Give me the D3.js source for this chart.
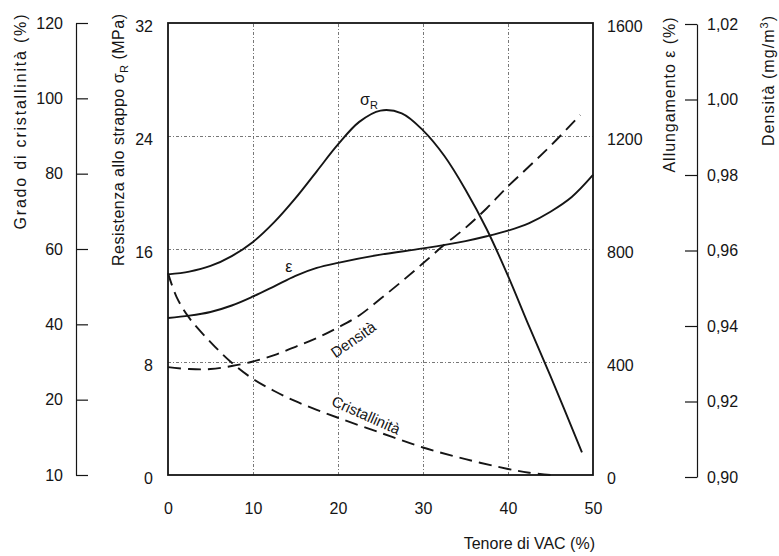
<!doctype html>
<html>
<head>
<meta charset="utf-8">
<script src="https://cdn.jsdelivr.net/npm/d3@7"></script>
<style>
  body { margin: 0; background: #fff; }
  svg { display: block; font-family: "Liberation Sans", Arial, Helvetica, sans-serif; }
</style>
</head>
<body>
<script>
// Values (x = Tenore di VAC, %)
const sigmaX = [0, 2.5, 5, 7.5, 10, 12.5, 15, 17.5, 20, 22.5, 25, 27.5, 30, 32.5, 35, 37.5, 40, 42.5, 45, 48.7];
const sigmaR = [14.2, 14.4, 14.8, 15.5, 16.5, 17.9, 19.6, 21.5, 23.4, 25.0, 25.8, 25.6, 24.4, 22.6, 20.2, 17.4, 14.1, 10.5, 7.0, 1.6];

const epsX = [0, 2.5, 5, 7.5, 10, 12.5, 15, 17.5, 20, 25, 30, 35, 37.5, 40, 42.5, 45, 47.5, 50];
const eps = [556, 564, 577, 600, 632, 668, 705, 733, 751, 780, 802, 828, 845, 865, 892, 932, 984, 1062];

const denX = [0, 2.5, 5, 7.5, 10, 12.5, 15, 17.5, 20, 22.5, 25, 27.5, 30, 32.5, 35, 37.5, 40, 42.5, 45, 48.5];
const dens = [0.9291, 0.9286, 0.9286, 0.9294, 0.9306, 0.9323, 0.9345, 0.9368, 0.9396, 0.9428, 0.9472, 0.9518, 0.9566, 0.9615, 0.9660, 0.9712, 0.9770, 0.9823, 0.9877, 0.9959];

const cryX = [0, 1, 2.5, 5, 7.5, 10, 12.5, 15, 17.5, 20, 25, 30, 35, 40, 42.5, 45];
const cry = [53.6, 47.3, 41.7, 35.3, 29.8, 25.5, 22.3, 19.6, 17.3, 15.2, 11.2, 7.3, 4.2, 1.6, 0.6, 0];

// Tick values and labels
const xTicks = [0, 10, 20, 30, 40, 50];
const mpaTicks = [0, 8, 16, 24, 32];
const epsTicks = [0, 400, 800, 1200, 1600];
const cryTicks = [0, 20, 40, 60, 80, 100, 120];
const cryLabels = ["10", "20", "40", "60", "80", "100", "120"];
const denTicks = [0.90, 0.92, 0.94, 0.96, 0.98, 1.00, 1.02];
const denLabels = ["0,90", "0,92", "0,94", "0,96", "0,98", "1,00", "1,02"];

const width = 779;
const height = 556;
const marginTop = 23;
const marginBottom = 81;
const marginLeft = 168;
const marginRight = 186;

const x = d3.scaleLinear([0, 50], [marginLeft, width - marginRight]);
const yMPa = d3.scaleLinear([0, 32], [height - marginBottom, marginTop]);
const yEps = d3.scaleLinear([0, 1600], [height - marginBottom, marginTop]);
const yCry = d3.scaleLinear([0, 120], [height - marginBottom, marginTop]);
const yDen = d3.scaleLinear([0.90, 1.02], [height - marginBottom + 2, marginTop + 1]);

const svg = d3.select("body").append("svg")
    .attr("width", width)
    .attr("height", height)
    .attr("viewBox", [0, 0, width, height]);

const ink = "#151515";
const plotW = width - marginLeft - marginRight;
const plotH = height - marginTop - marginBottom;

// grid
svg.append("g")
    .attr("transform", `translate(0,${height - marginBottom})`)
    .call(d3.axisBottom(x).tickValues([10, 20, 30, 40]).tickSize(-plotH).tickFormat(""))
    .call(g => g.select(".domain").remove())
    .call(g => g.selectAll("line").attr("stroke", "#555").attr("stroke-width", 0.8).attr("stroke-dasharray", "3,2,1,2"));

svg.append("g")
    .attr("transform", `translate(${marginLeft},0)`)
    .call(d3.axisRight(yMPa).tickValues([8, 16, 24]).tickSize(plotW).tickFormat(""))
    .call(g => g.select(".domain").remove())
    .call(g => g.selectAll("line").attr("stroke", "#555").attr("stroke-width", 0.8).attr("stroke-dasharray", "3,2,1,2"));

// frame
svg.append("rect")
    .attr("x", marginLeft).attr("y", marginTop)
    .attr("width", plotW).attr("height", plotH)
    .attr("fill", "none").attr("stroke", ink).attr("stroke-width", 1.8);

const fs = 16;

// x axis labels
svg.append("g")
    .attr("transform", `translate(0,${height - marginBottom})`)
    .call(d3.axisBottom(x).tickValues(xTicks).tickSize(0).tickPadding(28))
    .call(g => g.select(".domain").remove())
    .call(g => g.selectAll("text").attr("font-size", fs).attr("fill", ink).attr("font-family", null));

// MPa axis (left of frame)
svg.append("g")
    .attr("transform", `translate(${marginLeft},0)`)
    .call(d3.axisLeft(yMPa).tickValues(mpaTicks).tickSize(0).tickPadding(15))
    .call(g => g.select(".domain").remove())
    .call(g => g.selectAll("text").attr("font-size", fs).attr("fill", ink).attr("font-family", null).attr("dy", "0.5em"));

// elongation axis (right of frame)
svg.append("g")
    .attr("transform", `translate(${width - marginRight},0)`)
    .call(d3.axisRight(yEps).tickValues(epsTicks).tickSize(0).tickPadding(14).tickFormat(d3.format("d")))
    .call(g => g.select(".domain").remove())
    .call(g => g.selectAll("text").attr("font-size", fs).attr("fill", ink).attr("font-family", null).attr("dy", "0.5em"));

// crystallinity axis (far left)
svg.append("g")
    .attr("transform", "translate(76,0)")
    .call(d3.axisLeft(yCry).tickValues(cryTicks).tickSizeInner(-12).tickSizeOuter(0).tickPadding(13)
      .tickFormat((d, i) => cryLabels[i]))
    .call(g => g.select(".domain").attr("stroke", ink).attr("stroke-width", 1.2))
    .call(g => g.selectAll("line").attr("stroke", ink).attr("stroke-width", 1.2))
    .call(g => g.selectAll("text").attr("font-size", fs).attr("fill", ink).attr("font-family", null));

// density axis (far right)
svg.append("g")
    .attr("transform", "translate(697,0)")
    .call(d3.axisRight(yDen).tickValues(denTicks).tickSizeInner(-12).tickSizeOuter(0).tickPadding(10)
      .tickFormat((d, i) => denLabels[i]))
    .call(g => g.select(".domain").attr("stroke", ink).attr("stroke-width", 1.2))
    .call(g => g.selectAll("line").attr("stroke", ink).attr("stroke-width", 1.2))
    .call(g => g.selectAll("text").attr("font-size", fs).attr("fill", ink).attr("font-family", null));

// axis titles
function vTitle(cx, cy, len) {
  return svg.append("text")
      .attr("transform", `translate(${cx},${cy}) rotate(-90)`)
      .attr("text-anchor", "middle")
      .attr("font-size", fs)
      .attr("fill", ink)
      .attr("textLength", len)
      .attr("lengthAdjust", "spacing");
}
vTitle(26, 122, 215).text("Grado di cristallinità (%)");
const tR = vTitle(124, 140, 252);
tR.append("tspan").text("Resistenza allo strappo σ");
tR.append("tspan").attr("font-size", 11).attr("dy", 4).text("R");
tR.append("tspan").attr("dy", -4).text(" (MPa)");
vTitle(675, 95, 155).text("Allungamento ε (%)");
const tD = vTitle(774, 81, 130);
tD.append("tspan").text("Densità (mg/m");
tD.append("tspan").attr("font-size", 11).attr("dy", -6).text("3");
tD.append("tspan").attr("dy", 6).text(")");

svg.append("text")
    .attr("x", 595).attr("y", 549)
    .attr("text-anchor", "end")
    .attr("font-size", fs)
    .attr("fill", ink)
    .text("Tenore di VAC (%)");

// curves
const mk = (xs, ys, sy) => d3.line()
    .x((d, i) => x(xs[i]))
    .y(d => sy(d))
    .curve(d3.curveCatmullRom.alpha(0.5))(ys);

svg.append("path").attr("d", mk(sigmaX, sigmaR, yMPa))
    .attr("fill", "none").attr("stroke", ink).attr("stroke-width", 1.9);
svg.append("path").attr("d", mk(epsX, eps, yEps))
    .attr("fill", "none").attr("stroke", ink).attr("stroke-width", 1.9);
svg.append("path").attr("d", mk(denX, dens, yDen))
    .attr("fill", "none").attr("stroke", ink).attr("stroke-width", 1.9).attr("stroke-dasharray", "13,7");
svg.append("path").attr("d", mk(cryX, cry, yCry))
    .attr("fill", "none").attr("stroke", ink).attr("stroke-width", 1.9).attr("stroke-dasharray", "13,7");

// curve labels
const sig = svg.append("text")
    .attr("x", x(22.6)).attr("y", yMPa(26.2))
    .attr("font-size", 16).attr("fill", ink);
sig.append("tspan").text("σ");
sig.append("tspan").attr("font-size", 11).attr("dy", 4).text("R");

svg.append("text")
    .attr("x", x(13.8)).attr("y", yEps(719))
    .attr("font-size", 16).attr("fill", ink)
    .text("ε");

svg.append("text")
    .attr("transform", `translate(${x(21.8)},${yDen(0.9364)}) rotate(-35)`)
    .attr("text-anchor", "middle").attr("dy", "0.35em")
    .attr("font-size", 15).attr("fill", ink)
    .text("Densità");

svg.append("text")
    .attr("transform", `translate(${x(23.3)},${yCry(15.9)}) rotate(24)`)
    .attr("text-anchor", "middle").attr("dy", "0.35em")
    .attr("font-size", 15).attr("fill", ink)
    .text("Cristallinità");
</script>
</body>
</html>
